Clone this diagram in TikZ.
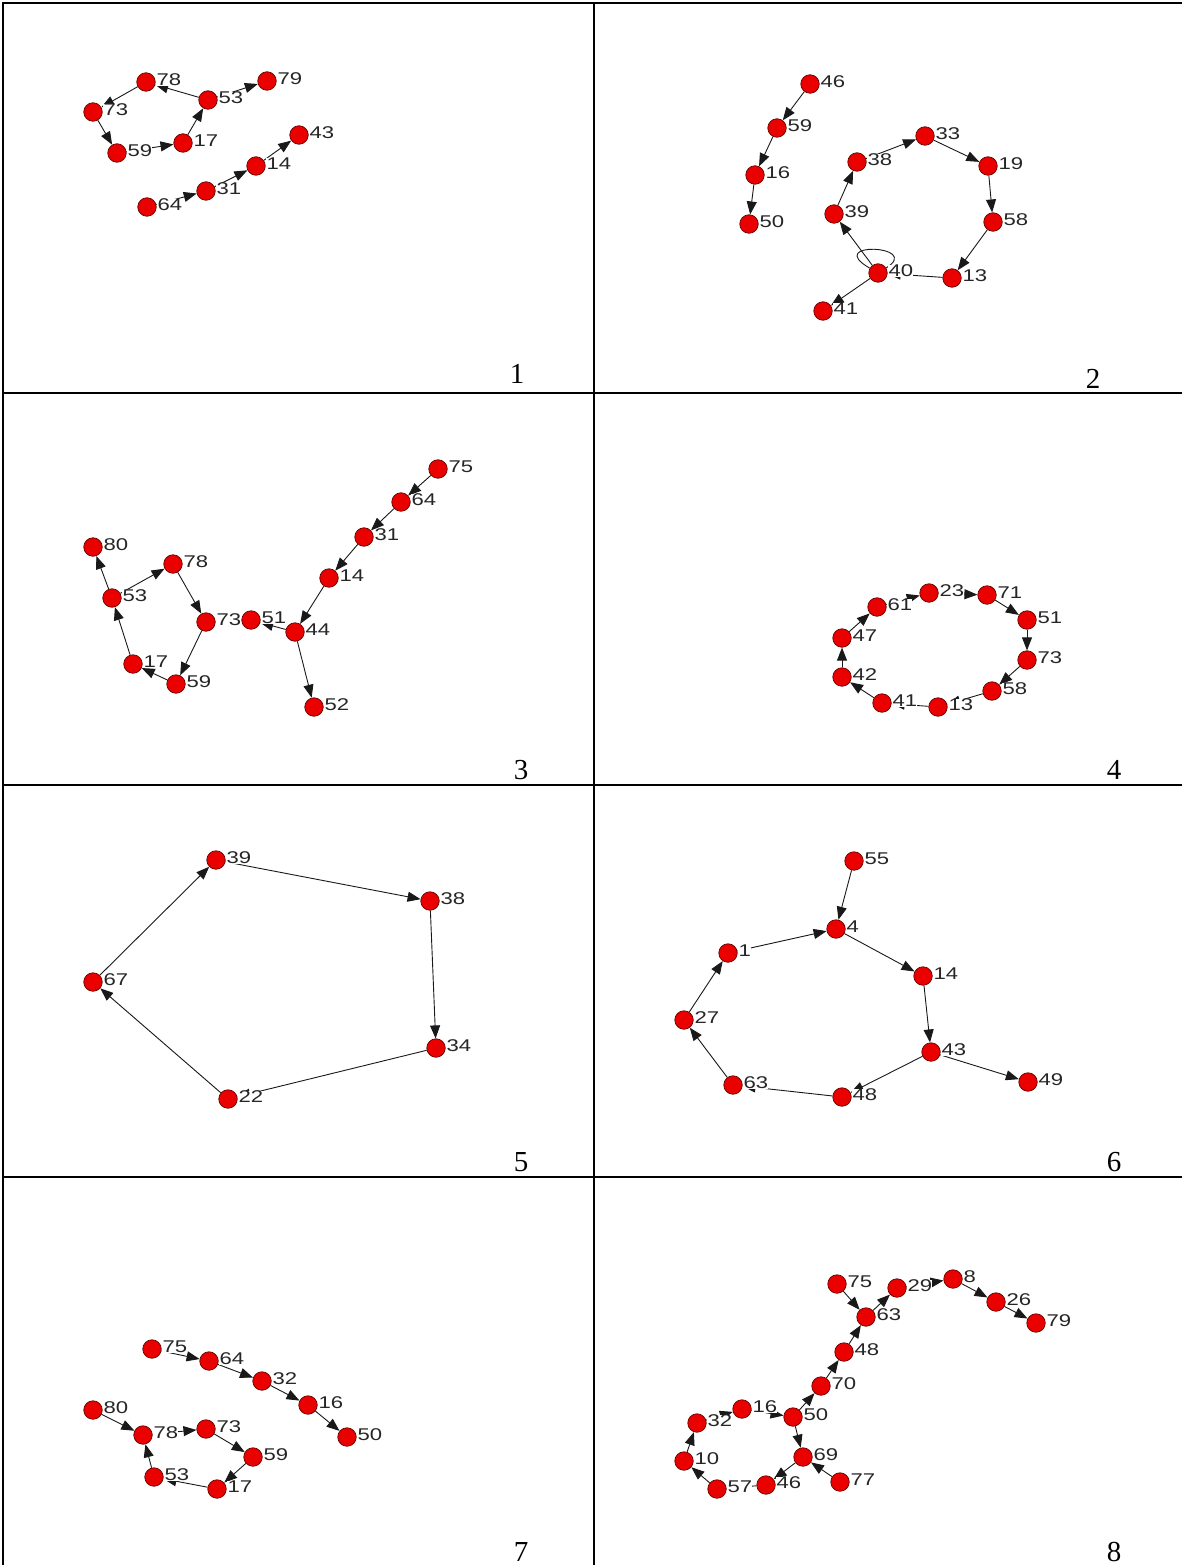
\documentclass[tikz,border=0pt]{standalone}
\usepackage{fontspec}
\setmainfont{Liberation Serif}
\newfontfamily\lblfont[FakeStretch=1.3]{Liberation Sans}
\usetikzlibrary{arrows.meta}
\pgfdeclarelayer{bg}
\pgfsetlayers{bg,main}
\tikzset{
    vtx/.style={circle, draw=red!40!black, fill=vtxred, line width=0.7pt,
        minimum size=18.5pt, inner sep=0pt,
        label={[lbl]right:#1}},
    lbl/.style={font=\lblfont\fontsize{17}{17}\selectfont, fill=white,
        inner sep=0.3pt, label distance=0.5pt, yshift=2pt, text=black!85},
    edge/.style={draw=black!90, line width=0.9pt},
    arr/.style={edge, -{Triangle[length=13pt,width=10pt]}},
    frame/.style={line width=2.4pt, line cap=rect},
    panelno/.style={font=\fontsize{29}{30}\selectfont, anchor=base, inner sep=0pt}
}

\begin{document}
\begin{tikzpicture}[x=1pt, y=-1pt]
\colorlet{vtxred}{red!92!black}
\useasboundingbox (0,0) rectangle (1182,1565);

% table grid
\draw[frame] (3,1565) -- (3,3) -- (1182,3);
\draw[frame] (594,3) -- (594,1565);
\foreach \h in {393,785,1177}
    \draw[frame] (3,\h) -- (1182,\h);

% panel numbers
\foreach \t/\x/\y in {1/517/383, 2/1093/388, 3/521/779, 4/1114/779,
                      5/521/1171, 6/1114/1171, 7/521/1561, 8/1114/1561}
    \node[panelno] (no\t) at (\x,\y) {\t};

% panel 1
\foreach \n/\x/\y in {78/146/82, 73/93/112, 53/208/100, 79/267/81, 59/117/153,
                      17/183/143, 43/299/135, 14/256/166, 31/206/191, 64/147/207}
    \node[vtx=\n] (a\n) at (\x,\y) {};
\begin{pgfonlayer}{bg}
\foreach \s/\t in {73/59, 59/17, 17/53, 53/79, 53/78, 78/73, 64/31, 31/14, 14/43}
    \draw[arr] (a\s) -- (a\t);
\end{pgfonlayer}

% panel 2
\foreach \n/\x/\y in {46/810/84, 59/777/128, 16/755/175, 50/749/224, 33/925/136,
                      38/857/162, 19/988/166, 39/834/214, 58/993/222, 40/878/273,
                      13/952/278, 41/823/311}
    \node[vtx=\n] (b\n) at (\x,\y) {};
\begin{pgfonlayer}{bg}
\foreach \s/\t in {46/59, 59/16, 16/50, 40/39, 39/38, 38/33, 33/19, 19/58,
                   58/13, 13/40, 40/41}
    \draw[arr] (b\s) -- (b\t);
\draw[edge] (b40) .. controls +(-55,-32) and +(45,-28) .. (b40);
\end{pgfonlayer}

% panel 3
\foreach \n/\x/\y in {75/438/469, 64/401/502, 31/364/537, 14/329/578, 44/295/632,
                      51/251/620, 73/206/622, 52/314/707, 80/93/547, 78/173/564,
                      53/112/598, 17/133/664, 59/176/684}
    \node[vtx=\n] (c\n) at (\x,\y) {};
\begin{pgfonlayer}{bg}
\foreach \s/\t in {75/64, 64/31, 31/14, 14/44, 44/51, 51/73, 44/52, 78/73,
                   73/59, 59/17, 17/53, 53/78, 53/80}
    \draw[arr] (c\s) -- (c\t);
\end{pgfonlayer}

% panel 4
\foreach \n/\x/\y in {23/929/593, 71/987/595, 61/877/607, 51/1027/620, 47/842/638,
                      73/1027/660, 42/842/677, 58/992/691, 41/882/703, 13/938/707}
    \node[vtx=\n] (d\n) at (\x,\y) {};
\begin{pgfonlayer}{bg}
\foreach \s/\t in {41/42, 42/47, 47/61, 61/23, 23/71, 71/51, 51/73, 73/58,
                   58/13, 13/41}
    \draw[arr] (d\s) -- (d\t);
\end{pgfonlayer}

% panel 5
\foreach \n/\x/\y in {39/216/860, 38/430/901, 67/93/982, 34/436/1048, 22/228/1099}
    \node[vtx=\n] (e\n) at (\x,\y) {};
\begin{pgfonlayer}{bg}
\foreach \s/\t in {39/38, 38/34, 34/22, 22/67, 67/39}
    \draw[arr] (e\s) -- (e\t);
\end{pgfonlayer}

% panel 6
\foreach \n/\x/\y in {55/854/861, 4/836/929, 1/728/953, 14/923/976, 27/684/1020,
                      43/931/1052, 49/1028/1082, 63/733/1085, 48/842/1097}
    \node[vtx=\n] (f\n) at (\x,\y) {};
\begin{pgfonlayer}{bg}
\foreach \s/\t in {55/4, 1/4, 4/14, 14/43, 43/49, 43/48, 48/63, 63/27, 27/1}
    \draw[arr] (f\s) -- (f\t);
\end{pgfonlayer}

% panel 7
\foreach \n/\x/\y in {75/152/1349, 64/209/1361, 32/262/1381, 16/308/1405,
                      50/347/1437, 80/93/1410, 78/143/1435, 73/206/1429,
                      59/253/1457, 53/154/1477, 17/217/1489}
    \node[vtx=\n] (g\n) at (\x,\y) {};
\begin{pgfonlayer}{bg}
\foreach \s/\t in {75/64, 64/32, 32/16, 16/50, 80/78, 78/73, 73/59, 59/17,
                   17/53, 53/78}
    \draw[arr] (g\s) -- (g\t);
\end{pgfonlayer}

% panel 8
\foreach \n/\x/\y in {75/837/1284, 29/897/1288, 8/953/1279, 63/866/1317,
                      26/996/1302, 79/1036/1323, 48/844/1352, 70/821/1386,
                      16/742/1409, 50/793/1417, 32/697/1423, 69/803/1457,
                      10/684/1461, 77/840/1482, 46/766/1485, 57/717/1489}
    \node[vtx=\n] (h\n) at (\x,\y) {};
\begin{pgfonlayer}{bg}
\foreach \s/\t in {75/63, 63/29, 29/8, 8/26, 26/79, 48/63, 70/48, 50/70,
                   16/50, 32/16, 10/32, 57/10, 46/57, 69/46, 50/69, 77/69}
    \draw[arr] (h\s) -- (h\t);
\end{pgfonlayer}
\end{tikzpicture}
\end{document}
